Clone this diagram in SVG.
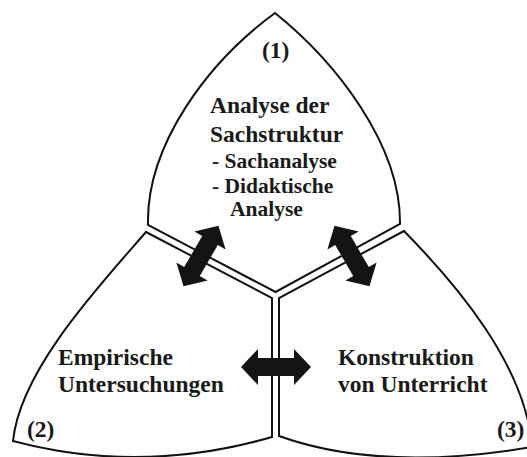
<svg xmlns="http://www.w3.org/2000/svg" width="527" height="457" viewBox="0 0 527 457">
  <style>
    .shape { fill: #ffffff; stroke: #111111; stroke-width: 2; stroke-linejoin: miter; }
    .t { font-family: "Liberation Serif", "Times New Roman", serif; font-weight: bold; fill: #1a1a1a; }
    .main { font-size: 23.5px; }
    .sub { font-size: 21.5px; }
    .arrow { fill: #141414; }
  </style>
  <defs>
    <path id="dblarrow" d="M -35 0 L -18 -18 L -18 -9 L 18 -9 L 18 -18 L 35 0 L 18 18 L 18 9 L -18 9 L -18 18 Z"/>
  </defs>
  <rect width="527" height="457" fill="#ffffff"/>

  <g id="node1">
    <path class="shape" d="M 275 13 C 336 62, 401 145, 400 224 L 275.5 292 L 148 225 C 146 145, 208 62, 275 13 Z"/>
    <text class="t main" x="262" y="58">(1)</text>
    <text class="t main" x="210" y="113">Analyse der</text>
    <text class="t main" x="210" y="142">Sachstruktur</text>
    <text class="t sub" x="212" y="168">- Sachanalyse</text>
    <text class="t sub" x="212" y="193">- Didaktische</text>
    <text class="t sub" x="230" y="216">Analyse</text>
  </g>

  <g id="node2">
    <path class="shape" d="M 146 232 L 272 298 L 272 437 Q 140 475 13 441 C 20 370, 100 285, 146 232 Z"/>
    <text class="t main" x="58" y="365">Empirische</text>
    <text class="t main" x="58" y="392">Untersuchungen</text>
    <text class="t main" x="27" y="437">(2)</text>
  </g>

  <g id="node3">
    <path class="shape" d="M 404 231 L 279 298 L 279 436 Q 380.5 472.5 532 447 C 526 365, 455 283, 404 231 Z"/>
    <text class="t main" x="338" y="365">Konstruktion</text>
    <text class="t main" x="338" y="392">von Unterricht</text>
    <text class="t main" x="497" y="437">(3)</text>
  </g>

  <g id="connectors">
    <use href="#dblarrow" class="arrow" transform="translate(201 256) rotate(-60)"/>
    <use href="#dblarrow" class="arrow" transform="translate(352 256) rotate(60)"/>
    <use href="#dblarrow" class="arrow" transform="translate(276 367)"/>
  </g>
</svg>
